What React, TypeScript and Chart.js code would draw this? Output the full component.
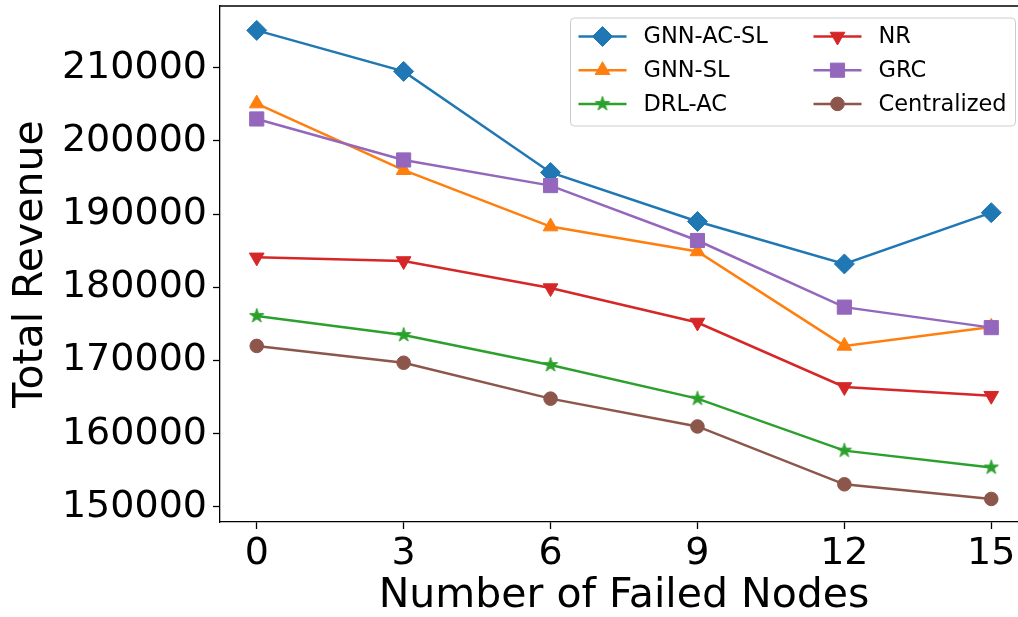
import React, { useEffect, useRef } from 'react';
import { Chart, registerables } from 'chart.js';

Chart.register(...registerables);

const failedNodes = [0, 3, 6, 9, 12, 15];
const seriesNames = ['GNN-AC-SL', 'GNN-SL', 'DRL-AC', 'NR', 'GRC', 'Centralized'];
const gnnAcSl = [215100, 209500, 195700, 189000, 183200, 190200];
const gnnSl = [205100, 196000, 188300, 184900, 172000, 174600];
const drlAc = [176100, 173500, 169400, 164800, 157700, 155400];
const nr = [184100, 183600, 179900, 175200, 166400, 165200];
const grc = [203000, 197400, 193900, 186400, 177300, 174500];
const centralized = [172000, 169700, 164800, 161000, 153100, 151100];
const xTicks = [0, 3, 6, 9, 12, 15];
const yTicks = [150000, 160000, 170000, 180000, 190000, 200000, 210000];

const seriesValues = [gnnAcSl, gnnSl, drlAc, nr, grc, centralized];
const colors = ['#1f77b4', '#ff7f0e', '#2ca02c', '#d62728', '#9467bd', '#8c564b'];
const FONT = "'DejaVu Sans', sans-serif";

function makeStar(color: string, outer: number): HTMLCanvasElement {
  const size = Math.ceil(outer * 2 + 3);
  const c = document.createElement('canvas');
  c.width = size;
  c.height = size;
  const g = c.getContext('2d')!;
  const cx = size / 2, cy = size / 2;
  const inner = outer * 0.382;
  g.beginPath();
  for (let i = 0; i < 10; i++) {
    const r = i % 2 === 0 ? outer : inner;
    const a = -Math.PI / 2 + (i * Math.PI) / 5;
    const px = cx + r * Math.cos(a);
    const py = cy + r * Math.sin(a);
    if (i === 0) g.moveTo(px, py); else g.lineTo(px, py);
  }
  g.closePath();
  g.fillStyle = color;
  g.strokeStyle = color;
  g.lineWidth = 1;
  g.fill();
  g.stroke();
  return c;
}

function drawMarker(ctx: CanvasRenderingContext2D, style: any, x: number, y: number, r: number, rot: number, color: string) {
  ctx.save();
  ctx.fillStyle = color;
  ctx.strokeStyle = color;
  ctx.lineWidth = 1;
  if (typeof style !== 'string') {
    ctx.drawImage(style, x - style.width / 2, y - style.height / 2);
    ctx.restore();
    return;
  }
  ctx.beginPath();
  if (style === 'rectRot') {
    ctx.moveTo(x, y - r); ctx.lineTo(x + r, y); ctx.lineTo(x, y + r); ctx.lineTo(x - r, y);
    ctx.closePath();
  } else if (style === 'rect') {
    const s = r * Math.SQRT1_2;
    ctx.rect(x - s, y - s, 2 * s, 2 * s);
  } else if (style === 'circle') {
    ctx.arc(x, y, r, 0, Math.PI * 2);
  } else if (style === 'triangle') {
    let a = (rot * Math.PI) / 180;
    ctx.moveTo(x + Math.sin(a) * r, y - Math.cos(a) * r);
    a += (2 * Math.PI) / 3;
    ctx.lineTo(x + Math.sin(a) * r, y - Math.cos(a) * r);
    a += (2 * Math.PI) / 3;
    ctx.lineTo(x + Math.sin(a) * r, y - Math.cos(a) * r);
    ctx.closePath();
  }
  ctx.fill();
  ctx.stroke();
  ctx.restore();
}

const framePlugin = {
  id: 'mplFrame',
  afterDraw(chart: any) {
    const { ctx, chartArea } = chart;
    ctx.save();
    ctx.strokeStyle = '#000';
    ctx.lineWidth = 1.3;
    ctx.beginPath();
    ctx.moveTo(chartArea.left, chartArea.top);
    ctx.lineTo(chartArea.right, chartArea.top);
    ctx.lineTo(chartArea.right, chartArea.bottom);
    ctx.stroke();

    // legend (matplotlib style, 2 columns, column-major)
    const bw = 445;
    const bh = 108;
    const bx = chartArea.right - 12.5 - bw;
    const by = chartArea.top + 12;
    ctx.beginPath();
    const rr = 4;
    ctx.moveTo(bx + rr, by);
    ctx.arcTo(bx + bw, by, bx + bw, by + bh, rr);
    ctx.arcTo(bx + bw, by + bh, bx, by + bh, rr);
    ctx.arcTo(bx, by + bh, bx, by, rr);
    ctx.arcTo(bx, by, bx + bw, by, rr);
    ctx.closePath();
    ctx.fillStyle = 'rgba(255,255,255,0.8)';
    ctx.fill();
    ctx.strokeStyle = '#cccccc';
    ctx.lineWidth = 1;
    ctx.stroke();

    const colX = [bx + 8, bx + 243];
    chart.data.datasets.forEach((ds: any, i: number) => {
      const col = Math.floor(i / 3);
      const row = i % 3;
      const lx = colX[col];
      const y = by + 18.5 + row * 33.7;
      ctx.strokeStyle = ds.borderColor;
      ctx.lineWidth = 2.5;
      ctx.beginPath();
      ctx.moveTo(lx, y);
      ctx.lineTo(lx + 48, y);
      ctx.stroke();
      drawMarker(ctx, ds.pointStyle, lx + 24, y, ds.pointRadius, ds.pointRotation || 0, ds.borderColor);
      ctx.fillStyle = '#000';
      ctx.font = `22.5px ${FONT}`;
      ctx.textAlign = 'left';
      ctx.textBaseline = 'middle';
      ctx.fillText(ds.label, lx + 65, y + 1);
    });
    ctx.restore();
  },
};

export default function App() {
  const ref = useRef<HTMLCanvasElement>(null);
  useEffect(() => {
    if (!ref.current) return;
    const star = makeStar(colors[2], 7.5);
    const styles: any[] = ['rectRot', 'triangle', star, 'triangle', 'rect', 'circle'];
    const radii = [10, 8.5, 7, 8.5, 10, 6.8];
    const rotations = [0, 0, 0, 180, 0, 0];
    const datasets = seriesNames.map((name, i) => ({
      label: name,
      data: failedNodes.map((x, j) => ({ x, y: seriesValues[i][j] })),
      borderColor: colors[i],
      backgroundColor: colors[i],
      borderWidth: 2.5,
      pointStyle: styles[i],
      pointRadius: radii[i],
      pointRotation: rotations[i],
      pointBorderWidth: 1,
      pointBackgroundColor: colors[i],
      pointBorderColor: colors[i],
      order: 10 - i,
      tension: 0,
    }));

    const chart = new Chart(ref.current, {
      type: 'line',
      data: { datasets },
      plugins: [framePlugin],
      options: {
        animation: false,
        responsive: false,
        maintainAspectRatio: false,
        layout: { autoPadding: false, padding: { top: 6, right: 0, left: 0, bottom: 0 } },
        plugins: { legend: { display: false }, tooltip: { enabled: false } },
        scales: {
          x: {
            type: 'linear',
            min: -0.75,
            max: 15.75,
            afterBuildTicks: (s: any) => { s.ticks = xTicks.map((v) => ({ value: v })); },
            afterFit: (s: any) => { s.height = 95; s.paddingLeft = 0; s.paddingRight = 0; },
            grid: { drawOnChartArea: false, tickLength: 7, tickWidth: 1.3, tickColor: '#000' },
            border: { color: '#000', width: 1.3 },
            ticks: { color: '#000', padding: 2, maxRotation: 0, font: { family: FONT, size: 38 } },
            title: {
              display: true,
              text: 'Number of Failed Nodes',
              color: '#000',
              padding: { top: 0, bottom: 0 },
              font: { family: FONT, size: 41, lineHeight: 1 },
            },
          },
          y: {
            type: 'linear',
            min: 147950,
            max: 218430,
            afterBuildTicks: (s: any) => { s.ticks = yTicks.map((v) => ({ value: v })); },
            afterFit: (s: any) => { s.width = 220; s.paddingTop = 0; s.paddingBottom = 0; },
            grid: { drawOnChartArea: false, tickLength: 7, tickWidth: 1.3, tickColor: '#000' },
            border: { color: '#000', width: 1.3 },
            ticks: { color: '#000', padding: 6, font: { family: FONT, size: 38 }, callback: (v: any) => String(v) },
            title: {
              display: true,
              text: 'Total Revenue',
              color: '#000',
              padding: { top: 11, bottom: 0 },
              font: { family: FONT, size: 41, lineHeight: 1 },
            },
          },
        },
      },
    });
    return () => chart.destroy();
  }, []);

  return (
    <div style={{ position: 'fixed', left: 0, top: 0, width: 1018, height: 617, overflow: 'hidden', background: '#fff' }}>
      <canvas ref={ref} width={1028} height={617} style={{ display: 'block' }} />
    </div>
  );
}
